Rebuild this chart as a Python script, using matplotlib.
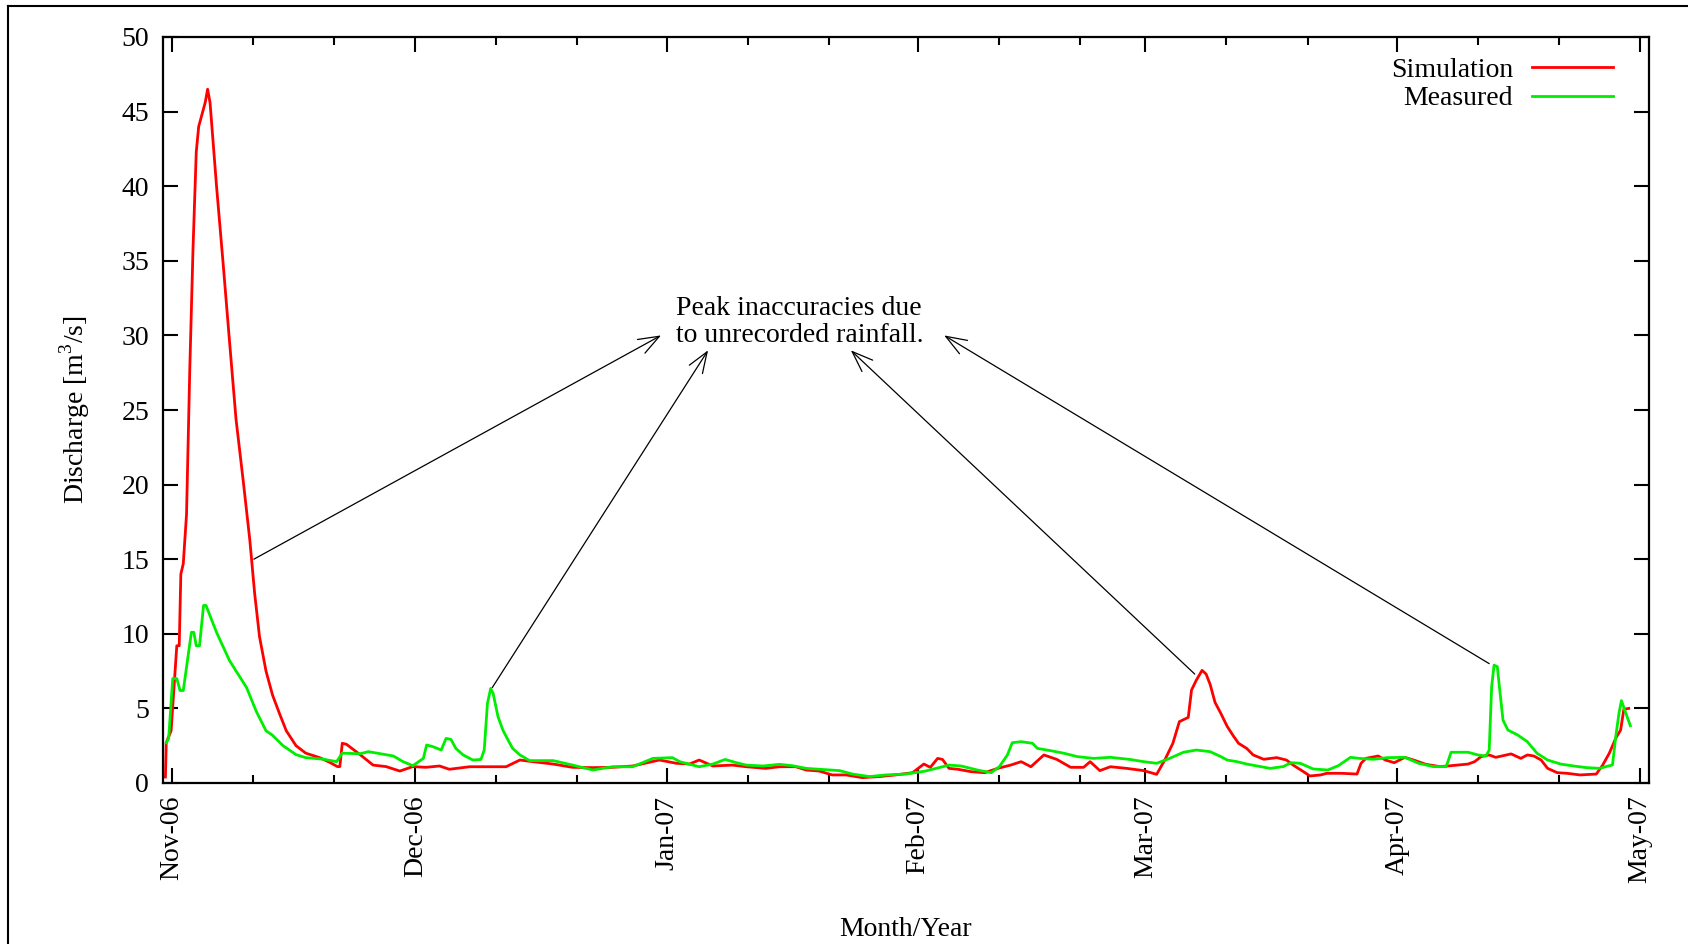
import datetime as dt

import matplotlib
matplotlib.use('Agg')
import matplotlib.pyplot as plt
import matplotlib.dates as mdates
from matplotlib.lines import Line2D
import numpy as np

plt.rcParams['font.family'] = ['Liberation Serif', 'DejaVu Serif']
plt.rcParams['mathtext.fontset'] = 'custom'
plt.rcParams['mathtext.rm'] = 'Liberation Serif'

# days since 1 Nov 2006, discharge in m3/s
sim_day = [-0.8, -0.7, -0.1, 0.6, 0.9, 1.1, 1.4, 1.8, 2.2, 2.6, 3.0, 3.3, 3.7, 4.1, 4.4,
           4.7, 5.5, 6.3, 7.1, 7.9, 8.8, 9.6, 10.2, 10.8, 11.6, 12.4, 13.3, 14.1, 15.3,
           16.5, 18.2, 19.4, 20.4, 20.7, 21.0, 21.5, 23.2, 24.8, 26.4, 28.1, 29.7, 31.3,
           33.0, 34.2, 36.7, 38.8, 41.2, 42.9, 44.5, 47.0, 49.4, 51.9, 54.3, 56.8, 60.1,
           62.2, 63.8, 65.0, 66.7, 69.1, 70.8, 73.2, 74.9, 76.9, 78.2, 79.8, 81.4, 83.1,
           85.1, 87.2, 89.2, 91.3, 92.7, 93.5, 94.4, 95.0, 95.8, 96.9, 98.5, 100.2, 101.8,
           103.4, 104.7, 105.9, 107.5, 109.1, 110.8, 112.4, 113.2, 114.4, 115.7, 117.7,
           119.8, 121.4, 122.4, 123.4, 124.2, 125.3, 125.7, 126.3, 127.0, 127.5, 128.0,
           128.6, 129.3, 130.1, 130.9, 131.5, 132.5, 133.3, 134.6, 136.2, 137.4, 138.2,
           139.5, 140.3, 141.6, 142.4, 144.2, 146.1, 146.6, 147.2, 148.7, 149.6, 150.7,
           152.0, 153.3, 154.6, 156.3, 157.3, 159.8, 160.6, 161.4, 162.4, 163.2, 165.1,
           166.3, 167.1, 167.9, 168.8, 169.6, 170.8, 172.0, 173.6, 175.6, 176.4, 177.2,
           178.0, 178.6, 179.0, 179.6]
sim_q = [0.4, 2.7, 3.5, 9.2, 9.2, 14.0, 14.7, 18.0, 27.7, 35.8, 42.3, 44.0, 44.8, 45.6, 46.5,
         45.6, 40.0, 34.9, 29.6, 24.4, 20.2, 16.3, 12.7, 9.8, 7.5, 5.9, 4.6, 3.5, 2.5,
         2.0, 1.7, 1.4, 1.1, 1.1, 2.66, 2.6, 1.9, 1.2, 1.1, 0.8, 1.1, 1.05,
         1.14, 0.92, 1.09, 1.09, 1.09, 1.54, 1.43, 1.27, 1.05, 1.03, 1.05, 1.14, 1.54,
         1.32, 1.27, 1.54, 1.14, 1.2, 1.09, 0.98, 1.09, 1.09, 0.87, 0.8, 0.54, 0.54,
         0.36, 0.43, 0.54, 0.69, 1.27, 1.05, 1.65, 1.58, 0.98, 0.92, 0.76, 0.69, 0.98,
         1.2, 1.43, 1.09, 1.88, 1.58, 1.05, 1.05, 1.43, 0.83, 1.09, 0.98,
         0.83, 0.58, 1.54, 2.66, 4.11, 4.4, 6.23, 6.9, 7.55, 7.3, 6.6,
         5.4, 4.68, 3.79, 3.12, 2.66, 2.32, 1.88, 1.59, 1.7, 1.54, 1.21,
         0.76, 0.47, 0.54, 0.65, 0.65, 0.6, 1.32, 1.65, 1.81, 1.54, 1.36,
         1.72, 1.5, 1.25, 1.1, 1.14, 1.27, 1.43, 1.77, 1.88, 1.72, 1.95,
         1.65, 1.88, 1.81, 1.54, 0.98, 0.69, 0.65, 0.54, 0.6, 1.21, 1.99,
         3.0, 3.55, 4.94, 5.0]

meas_day = [-0.7, -0.4, 0.1, 0.6, 1.0, 1.4, 2.4, 2.7, 3.0, 3.4, 3.9, 4.2, 5.5, 7.1, 9.2,
            10.4, 11.6, 12.4, 13.7, 15.3, 16.5, 18.6, 20.3, 21.0, 23.2, 24.2, 25.3, 27.3,
            28.5, 29.7, 31.0, 31.4, 32.2, 33.2, 33.8, 34.4, 35.0, 35.9, 37.1, 38.1, 38.5,
            38.9, 39.3, 39.6, 40.2, 40.8, 41.4, 42.0, 42.9, 44.1, 47.0, 49.4, 51.9, 54.3,
            56.8, 59.3, 61.7, 62.6, 65.0, 66.7, 68.2, 69.6, 70.8, 72.9, 74.9, 76.5, 78.2,
            79.8, 82.3, 83.9, 86.0, 88.0, 90.5, 92.9, 95.8, 97.3, 99.3, 101.0, 102.0, 103.0,
            103.6, 104.7, 106.1, 106.7, 108.3, 110.0, 111.6, 113.6, 115.7, 118.1, 119.8,
            121.4, 123.0, 124.7, 126.3, 128.0, 129.3, 130.1, 131.3, 132.5, 133.8, 135.4,
            137.0, 138.0, 139.1, 140.7, 142.5, 143.8, 145.3, 146.4, 148.1, 149.9, 152.0,
            153.7, 155.5, 157.1, 157.7, 159.8, 161.0, 162.0, 162.4, 162.7, 163.0, 163.4,
            163.7, 164.1, 164.7, 165.9, 167.1, 168.3, 169.6, 171.2, 172.8, 174.4, 176.0,
            176.8, 177.6, 178.0, 178.4, 178.7, 179.1, 179.8]
meas_q = [2.7, 3.0, 7.0, 7.0, 6.2, 6.2, 10.1, 10.1, 9.2, 9.2, 11.9, 11.9, 10.1, 8.2, 6.4,
          4.8, 3.5, 3.2, 2.5, 1.9, 1.7, 1.6, 1.43, 2.0, 1.96, 2.1, 2.0, 1.81,
          1.43, 1.16, 1.65, 2.55, 2.43, 2.21, 2.99, 2.92, 2.32, 1.88, 1.54, 1.58, 2.21,
          5.34, 6.34, 6.0, 4.45, 3.55, 2.92, 2.32, 1.88, 1.5, 1.5, 1.2, 0.87, 1.09,
          1.09, 1.65, 1.7, 1.43, 1.09, 1.27, 1.58, 1.36, 1.2, 1.14, 1.25, 1.16, 0.98,
          0.92, 0.83, 0.6, 0.43, 0.54, 0.6, 0.8, 1.2, 1.14, 0.87, 0.69, 1.09, 1.88,
          2.7, 2.77, 2.66, 2.32, 2.17, 1.99, 1.77, 1.65, 1.72, 1.58, 1.43,
          1.32, 1.65, 2.06, 2.21, 2.1, 1.77, 1.54, 1.43, 1.27, 1.14, 0.98,
          1.1, 1.36, 1.32, 0.94, 0.87, 1.16, 1.72, 1.65, 1.59, 1.7, 1.72,
          1.32, 1.1, 1.1, 2.06, 2.06, 1.88, 1.81, 2.21, 6.45, 7.9, 7.8,
          6.23, 4.22, 3.55, 3.22, 2.77, 1.99, 1.54, 1.27, 1.14, 1.03, 0.98,
          1.1, 1.21, 3.11, 4.68, 5.52, 4.9, 3.84]

# arrow tails sit on the peaks, heads point at the note
arrow_tail_day = [10.1, 39.5, 126.1, 162.4]
arrow_tail_q = [15.0, 6.4, 7.3, 8.0]
arrow_head_day = [60.3, 66.1, 83.7, 95.2]
arrow_head_q = [30.0, 29.0, 29.0, 30.0]

note_day = 62.1
note_q = 30.9
note_text = 'Peak inaccuracies due\nto unrecorded rainfall.'

FS = 20
start = mdates.date2num(dt.datetime(2006, 11, 1))


def to_dates(days):
    return start + np.asarray(days, dtype=float)


fig = plt.figure(figsize=(16.88, 9.44), dpi=100)
ax = fig.add_axes([163 / 1688, 1 - 783 / 944, (1649 - 163) / 1688, (783 - 37) / 944])

ax.plot(to_dates(sim_day), sim_q, color='#ff0000', lw=2.0, label='Simulation')
ax.plot(to_dates(meas_day), meas_q, color='#00ee00', lw=2.0, label='Measured')

for td, tq, hd, hq in zip(arrow_tail_day, arrow_tail_q, arrow_head_day, arrow_head_q):
    ax.annotate('', xy=(start + hd, hq), xytext=(start + td, tq),
                arrowprops=dict(arrowstyle='->,head_length=0.75,head_width=0.28',
                                color='black', lw=0.9, mutation_scale=20,
                                shrinkA=0, shrinkB=0))
ax.text(start + note_day, note_q, note_text, fontsize=FS, ha='left', va='center',
        linespacing=1.12)

ax.set_xlim(start - 1.1, start + 182.1)
ax.set_ylim(0, 50)
ax.set_yticks(np.arange(0, 51, 5))

ax.xaxis.set_major_locator(mdates.MonthLocator())
ax.xaxis.set_major_formatter(mdates.DateFormatter('%b-%y'))
ax.xaxis.set_minor_locator(mdates.DayLocator(bymonthday=[11, 21]))

ax.tick_params(which='both', direction='in', top=True, right=True, width=1.5,
               labelsize=FS)
ax.tick_params(which='major', length=11)
ax.tick_params(which='minor', length=5.5)
ax.tick_params(axis='x', pad=9, labelrotation=90)
ax.tick_params(axis='y', pad=10)
for s in ax.spines.values():
    s.set_linewidth(1.6)

ax.set_ylabel('Discharge [m$^{3}$/s]', fontsize=FS, labelpad=21)
ax.set_xlabel('Month/Year', fontsize=FS, labelpad=24)

ax.legend(loc='upper right', bbox_to_anchor=(0.983, 0.988), frameon=False,
          markerfirst=False, fontsize=FS, handlelength=2.9, handletextpad=0.68,
          labelspacing=0.12, borderpad=0.4, borderaxespad=0)

# outer frame line on the left and top
fig.add_artist(Line2D([8 / 1688, 8 / 1688], [0, 1 - 6 / 944], color='black', lw=1.5))
fig.add_artist(Line2D([8 / 1688, 1], [1 - 6 / 944, 1 - 6 / 944], color='black', lw=1.5))

fig.savefig('out.png', dpi=100)
